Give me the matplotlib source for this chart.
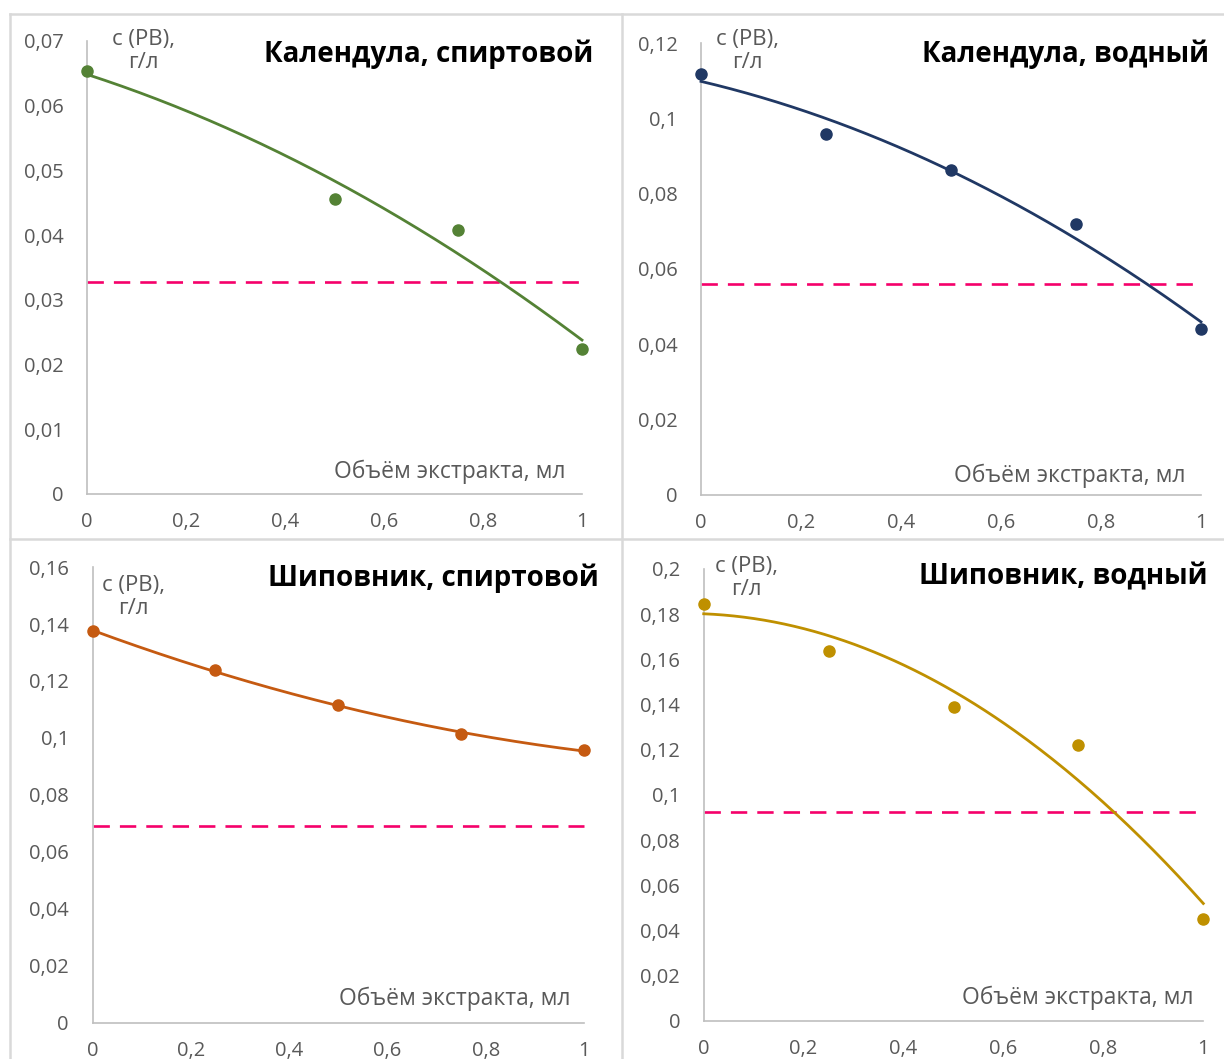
import numpy as np
import matplotlib

matplotlib.use("Agg")
import matplotlib.pyplot as plt
from matplotlib.lines import Line2D

plt.rcParams["font.family"] = ["Open Sans", "DejaVu Sans"]

# --- data ---
x_cal_spirit = [0, 0.5, 0.75, 1]
c_cal_spirit = [0.0653, 0.0456, 0.0408, 0.0224]
lim_cal_spirit = 0.0327
yt_cal_spirit = [0, 0.01, 0.02, 0.03, 0.04, 0.05, 0.06, 0.07]

x_cal_water = [0, 0.25, 0.5, 0.75, 1]
c_cal_water = [0.1118, 0.0959, 0.0862, 0.0718, 0.0440]
lim_cal_water = 0.0559
yt_cal_water = [0, 0.02, 0.04, 0.06, 0.08, 0.1, 0.12]

x_rose_spirit = [0, 0.25, 0.5, 0.75, 1]
c_rose_spirit = [0.1375, 0.1238, 0.1114, 0.1013, 0.0957]
lim_rose_spirit = 0.0691
yt_rose_spirit = [0, 0.02, 0.04, 0.06, 0.08, 0.1, 0.12, 0.14, 0.16]

x_rose_water = [0, 0.25, 0.5, 0.75, 1]
c_rose_water = [0.1846, 0.1637, 0.1390, 0.1222, 0.0452]
lim_rose_water = 0.0925
yt_rose_water = [0, 0.02, 0.04, 0.06, 0.08, 0.1, 0.12, 0.14, 0.16, 0.18, 0.2]

x_ticks = [0, 0.2, 0.4, 0.6, 0.8, 1]

titles = ["Календула, спиртовой", "Календула, водный",
          "Шиповник, спиртовой", "Шиповник, водный"]
y_label = "c (PB),\nг/л"
x_label = "Объём экстракта, мл"

colors = ["#548235", "#203864", "#c55a11", "#bf9000"]
limit_color = "#f5006a"
tick_color = "#595959"
axis_color = "#bfbfbf"
border_color = "#d9d9d9"


def comma(v):
    return "{:g}".format(v).replace(".", ",")


W, H = 1224, 1059
fig = plt.figure(figsize=(W / 100, H / 100), dpi=100)

# axes rectangles in pixels: left, top, right, bottom
rects_px = [
    (87, 41, 582, 494),
    (701, 43, 1201, 494.8),
    (92.5, 567.1, 584.3, 1022.6),
    (703.7, 568.8, 1203.3, 1021),
]
# text offsets in pixels: ylabel, title, xlabel
ylab_off = [(56, -10), (46, -8), (41, -30), (43, -9)]
title_off = [(11, -21), (8, -19), (14, -19), (4, -16)]
xlab_off = [(-17, 16), (-16, 13), (-14, 18), (-10, 17)]

panels = [
    (x_cal_spirit, c_cal_spirit, lim_cal_spirit, yt_cal_spirit),
    (x_cal_water, c_cal_water, lim_cal_water, yt_cal_water),
    (x_rose_spirit, c_rose_spirit, lim_rose_spirit, yt_rose_spirit),
    (x_rose_water, c_rose_water, lim_rose_water, yt_rose_water),
]

for i, (xs, cs, lim, yt) in enumerate(panels):
    l, t, r, b = rects_px[i]
    ax = fig.add_axes([l / W, 1 - b / H, (r - l) / W, (b - t) / H])
    ax.set_facecolor("none")
    ax.set_xlim(0, 1)
    ax.set_ylim(yt[0], yt[-1])
    for side in ("top", "right"):
        ax.spines[side].set_visible(False)
    for side in ("left", "bottom"):
        ax.spines[side].set_color(axis_color)
        ax.spines[side].set_linewidth(1.2)
    ax.set_xticks(x_ticks)
    ax.set_xticklabels([comma(v) for v in x_ticks])
    ax.set_yticks(yt)
    ax.set_yticklabels([comma(v) for v in yt])
    ax.tick_params(axis="both", length=0, labelsize=14.5, colors=tick_color)
    ax.tick_params(axis="y", pad=17)
    ax.tick_params(axis="x", pad=13)

    # quadratic trendline as in the Excel chart
    coef = np.polyfit(xs, cs, 2)
    xf = np.linspace(0, 1, 200)
    ax.plot(xf, np.polyval(coef, xf), color=colors[i], lw=2.0, clip_on=False, zorder=3)
    ax.plot(xs, cs, "o", color=colors[i], ms=8, clip_on=False, zorder=4)
    ax.plot([0, 1], [lim, lim], color=limit_color, lw=1.9, dashes=(6.2, 3.8),
            clip_on=False, zorder=2)

    ax.annotate(y_label, xy=(0, 1), xycoords="axes fraction",
                xytext=ylab_off[i], textcoords="offset pixels",
                ha="center", va="center", multialignment="center",
                fontsize=16, color=tick_color, linespacing=1.1)
    ax.annotate(titles[i], xy=(1, 1), xycoords="axes fraction",
                xytext=title_off[i], textcoords="offset pixels",
                ha="right", va="baseline", fontsize=20, fontweight="bold",
                color="black")
    ax.annotate(x_label, xy=(1, 0), xycoords="axes fraction",
                xytext=xlab_off[i], textcoords="offset pixels",
                ha="right", va="baseline", fontsize=16.5, color=tick_color)

# chart-area borders
for x0, y0, x1, y1 in [(10, 14, W, 14), (10, 14, 10, H), (621.5, 14, 621.5, H),
                       (10, 539, W, 539)]:
    fig.add_artist(Line2D([x0 / W, x1 / W], [1 - y0 / H, 1 - y1 / H],
                          color=border_color, lw=1.8))

fig.savefig("out.png", dpi=100)
